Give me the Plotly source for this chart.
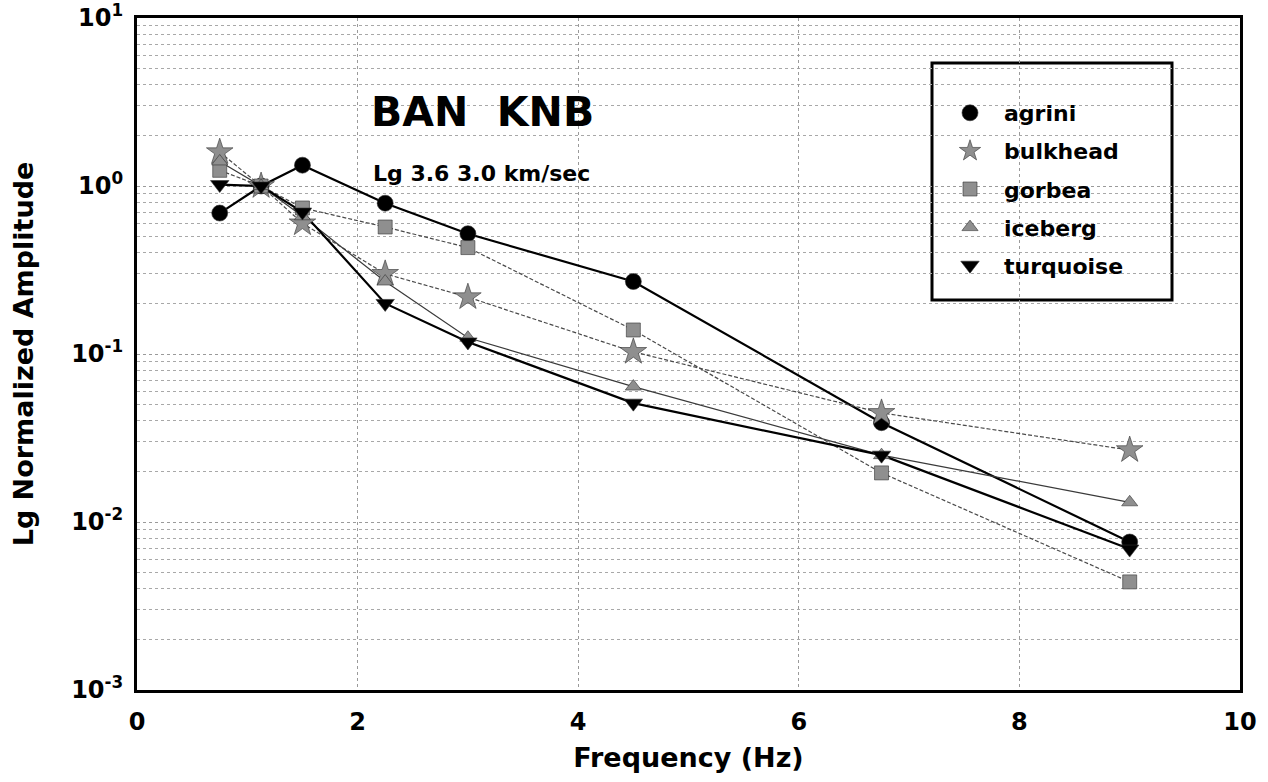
import plotly.graph_objects as go

freq = [0.75, 1.125, 1.5, 2.25, 3.0, 4.5, 6.75, 9.0]
agrini = [0.69, 1.0, 1.33, 0.79, 0.52, 0.27, 0.039, 0.0076]
bulkhead = [1.59, 1.0, 0.60, 0.30, 0.218, 0.103, 0.0446, 0.0268]
gorbea = [1.24, 1.0, 0.74, 0.57, 0.43, 0.139, 0.0196, 0.0044]
iceberg = [1.40, 1.0, 0.66, 0.27, 0.125, 0.064, 0.025, 0.0131]
turquoise = [1.02, 1.0, 0.70, 0.20, 0.118, 0.051, 0.025, 0.0069]

names = ["agrini", "bulkhead", "gorbea", "iceberg", "turquoise"]
series = [agrini, bulkhead, gorbea, iceberg, turquoise]

GRAY = "#8f8f8f"
styles = {
    "agrini": dict(symbol="circle", mcolor="black", lcolor="black", lw=2.2, dash="solid", size=16),
    "bulkhead": dict(symbol="star", mcolor=GRAY, lcolor="#4a4a4a", lw=1.2, dash="4px,2px", size=20),
    "gorbea": dict(symbol="square", mcolor=GRAY, lcolor="#4a4a4a", lw=1.2, dash="4px,2px", size=14),
    "iceberg": dict(symbol="triangle-up", mcolor=GRAY, lcolor="#3a3a3a", lw=1.2, dash="solid", size=14),
    "turquoise": dict(symbol="triangle-down", mcolor="black", lcolor="black", lw=2.2, dash="solid", size=16),
}

fig = go.Figure()
# lines first
for n, s in zip(names, series):
    st = styles[n]
    fig.add_trace(go.Scatter(
        x=freq, y=s, mode="lines", showlegend=False, legendgroup=n,
        line=dict(color=st["lcolor"], width=st["lw"], dash=st["dash"]),
        hoverinfo="skip",
    ))
# markers
for n, s in zip(names, series):
    st = styles[n]
    fig.add_trace(go.Scatter(
        x=freq, y=s, name="<b>%s</b>" % n, mode="markers", legendgroup=n,
        marker=dict(symbol=st["symbol"], color=st["mcolor"], size=st["size"],
                    line=dict(width=0.6, color="#333333")),
    ))

font = "DejaVu Sans, Verdana, sans-serif"
ytv = [1e-3, 1e-2, 1e-1, 1, 10]
ytt = ["<b>10<sup>-3</sup></b>", "<b>10<sup>-2</sup></b>", "<b>10<sup>-1</sup></b>",
       "<b>10<sup>0</sup></b>", "<b>10<sup>1</sup></b>"]
xtv = [0, 2, 4, 6, 8, 10]
xtt = ["<b>%d</b>" % v for v in xtv]

fig.update_layout(
    width=1268, height=782,
    margin=dict(l=137, r=28, t=18, b=92),
    paper_bgcolor="white", plot_bgcolor="white",
    font=dict(family=font, color="black", size=18),
    legend=dict(
        x=(936 - 137) / 1103, y=(690 - 92) / 672, xanchor="left", yanchor="top",
        borderwidth=0, bgcolor="rgba(0,0,0,0)",
        font=dict(family=font, size=22, color="black"),
        tracegroupgap=6.5, itemsizing="trace", itemwidth=58,
    ),
    shapes=[dict(type="rect", xref="paper", yref="paper",
                 x0=(932 - 137) / 1103, x1=(1172 - 137) / 1103,
                 y0=(690 - 300) / 672, y1=(690 - 63) / 672,
                 fillcolor="white", line=dict(color="black", width=3), layer="below")],
    xaxis=dict(
        range=[0, 10], tickvals=xtv, ticktext=xtt, automargin=False,
        showline=True, linecolor="black", linewidth=3, mirror=True,
        showgrid=True, gridcolor="#9a9a9a", griddash="dot", gridwidth=1,
        ticks="", zeroline=False, ticklabelstandoff=8,
        title=dict(text="<b>Frequency (Hz)</b>", font=dict(size=27), standoff=14),
        tickfont=dict(size=24),
    ),
    yaxis=dict(
        type="log", range=[-3, 1], tickvals=ytv, ticktext=ytt, automargin=False,
        showline=True, linecolor="black", linewidth=3, mirror=True,
        showgrid=True, gridcolor="#9a9a9a", griddash="dot", gridwidth=1,
        minor=dict(showgrid=True, gridcolor="#a8a8a8", griddash="dot", gridwidth=1,
                   tickvals=[m * 10.0 ** e for e in range(-3, 1) for m in range(2, 10)]),
        ticks="", zeroline=False, ticklabelstandoff=6,
        title=dict(text="<b>Lg Normalized Amplitude</b>", font=dict(size=27), standoff=30),
        tickfont=dict(size=24),
    ),
    annotations=[
        dict(x=2.10, y=0.44, xref="x", yref="y", yanchor="middle", xanchor="left",
             text="<b>BAN  KNB</b>", showarrow=False, font=dict(size=41, family=font)),
        dict(x=2.12, y=0.077, xref="x", yref="y", yanchor="middle", xanchor="left",
             text="<b>Lg 3.6 3.0 km/sec</b>", showarrow=False, font=dict(size=22, family=font)),
    ],
)

fig.write_html("out.html")
